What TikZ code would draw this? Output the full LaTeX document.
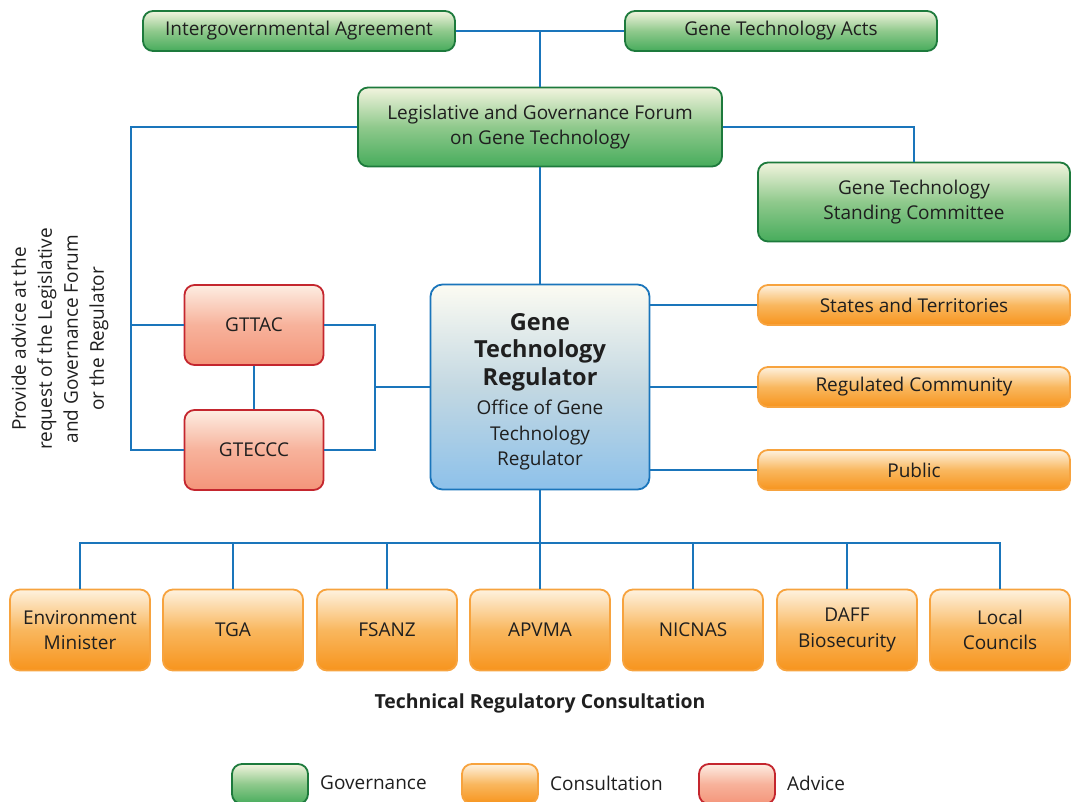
\documentclass[tikz,border=0pt]{standalone}
\usepackage{fontspec}
\setmainfont{Open Sans}
\definecolor{linkblue}{HTML}{1A75BB}
\definecolor{govline}{HTML}{1D7A3C}
\definecolor{govtop}{HTML}{F2F4DE}
\definecolor{govmid}{HTML}{8FC98C}
\definecolor{govbot}{HTML}{47AC5C}
\definecolor{conline}{HTML}{F7A33E}
\definecolor{contop}{HTML}{FEF2DF}
\definecolor{conmid}{HTML}{F9B75E}
\definecolor{conbot}{HTML}{F7941D}
\definecolor{advline}{HTML}{C4262E}
\definecolor{advtop}{HTML}{FDEDE2}
\definecolor{advmid}{HTML}{F7B29B}
\definecolor{advbot}{HTML}{F4957A}
\definecolor{regtop}{HTML}{FCFBF2}
\definecolor{regmid}{HTML}{C3D8E2}
\definecolor{regbot}{HTML}{8DC1EA}
\newcommand\gtrtitle{\fontsize{23.5}{28}\selectfont\bfseries}

\tikzset{
	box/.style={rounded corners=10pt, line width=1.8pt, align=center, inner sep=0pt,
		font=\fontsize{19}{25.5}\selectfont, text=black!88},
	gov/.style={box, draw=govline, top color=govtop, bottom color=govbot, middle color=govmid},
	cons/.style={box, draw=conline, top color=contop, bottom color=conbot, middle color=conmid},
	adv/.style={box, draw=advline, top color=advtop, bottom color=advbot, middle color=advmid},
	reg/.style={box, rounded corners=12pt, draw=linkblue, top color=regtop, bottom color=regbot, middle color=regmid},
	link/.style={draw=linkblue, line width=1.8pt},
	legend/.style={font=\fontsize{19}{25}\selectfont, anchor=west, inner sep=0pt, text=black!88}
}

\begin{document}
\begin{tikzpicture}[x=1pt, y=-1pt]
	\useasboundingbox (0,0) rectangle (1075,802);

	% governance
	\node[gov, minimum width=312, minimum height=40] (iga) at (299,31) {Intergovernmental Agreement};
	\node[gov, minimum width=312, minimum height=40] (gta) at (781,31) {Gene Technology Acts};
	\node[gov, minimum width=364, minimum height=79] (lgf) at (540,127) {Legislative and Governance Forum\\on Gene Technology};
	\node[gov, minimum width=312, minimum height=79] (gtsc) at (914,202) {Gene Technology\\Standing Committee};

	% regulator
	\node[reg, minimum width=219, minimum height=205] (gtr) at (540,387) {\gtrtitle\rule{0pt}{27pt}Gene\\[2pt]\gtrtitle Technology\\[2pt]\gtrtitle Regulator\\[4pt]Office of Gene\\Technology\\Regulator};

	% advice
	\node[adv, minimum width=139, minimum height=80] (gttac) at (254,325) {GTTAC};
	\node[adv, minimum width=139, minimum height=80] (gteccc) at (254,450) {GTECCC};
	\node[rotate=90, align=center, font=\fontsize{19}{26}\selectfont, text=black!88] (note) at (60,339) {Provide advice at the\\request of the Legislative\\and Governance Forum\\or the Regulator};

	% consultation
	\node[cons, minimum width=312, minimum height=40] (sat) at (914,305) {States and Territories};
	\node[cons, minimum width=312, minimum height=40] (rcom) at (914,387) {Regulated Community};
	\node[cons, minimum width=312, minimum height=40] (pub) at (914,470) {Public};

	\node[cons, minimum width=140, minimum height=81] (env) at (80,630) {Environment\\Minister};
	\node[cons, minimum width=140, minimum height=81] (tga) at (233,630) {TGA};
	\node[cons, minimum width=140, minimum height=81] (fsanz) at (387,630) {FSANZ};
	\node[cons, minimum width=140, minimum height=81] (apvma) at (540,630) {APVMA};
	\node[cons, minimum width=140, minimum height=81] (nicnas) at (693,630) {NICNAS};
	\node[cons, minimum width=140, minimum height=81] (daff) at (847,630) {DAFF\\Biosecurity};
	\node[cons, minimum width=140, minimum height=81] (loc) at (1000,630) {Local\\Councils};
	\node[font=\fontsize{19.4}{25}\selectfont\bfseries, text=black!88] (trc) at (540,703) {Technical Regulatory Consultation};

	% connectors
	\coordinate (lx) at (131,325);
	\coordinate (rx) at (375,387);
	\coordinate (bus) at (540,543);
	\draw[link] (iga.east) -- (gta.west);
	\draw[link] (lgf.north) -- (lgf.north |- iga.east);
	\draw[link] (lgf.west) -- (lgf.west -| lx) -- (gteccc.west -| lx) -- (gteccc.west);
	\draw[link] (lx) -- (gttac.west);
	\draw[link] (lgf.east) -| (gtsc.north);
	\draw[link] (lgf.south) -- (gtr.north);
	\draw[link] (gttac.south) -- (gteccc.north);
	\draw[link] (gttac.east) -| (rx) |- (gteccc.east);
	\draw[link] (rx) -- (gtr.west);
	\draw[link] (gtr.east |- sat.west) -- (sat.west);
	\draw[link] (gtr.east |- rcom.west) -- (rcom.west);
	\draw[link] (gtr.east |- pub.west) -- (pub.west);
	\draw[link] (gtr.south) -- (bus);
	\draw[link] (env.north) -- (env.north |- bus) -- (loc.north |- bus) -- (loc.north);
	\draw[link] (tga.north) -- (tga.north |- bus);
	\draw[link] (fsanz.north) -- (fsanz.north |- bus);
	\draw[link] (apvma.north) -- (bus);
	\draw[link] (nicnas.north) -- (nicnas.north |- bus);
	\draw[link] (daff.north) -- (daff.north |- bus);

	% legend
	\node[gov, minimum width=76, minimum height=40] (lgov) at (270,784) {};
	\node[legend] (tgov) at (320,783) {Governance};
	\node[cons, minimum width=76, minimum height=40] (lcons) at (500,784) {};
	\node[legend] (tcons) at (550,783) {Consultation};
	\node[adv, minimum width=76, minimum height=40] (ladv) at (737,784) {};
	\node[legend] (tadv) at (787,783) {Advice};
\end{tikzpicture}
\end{document}
